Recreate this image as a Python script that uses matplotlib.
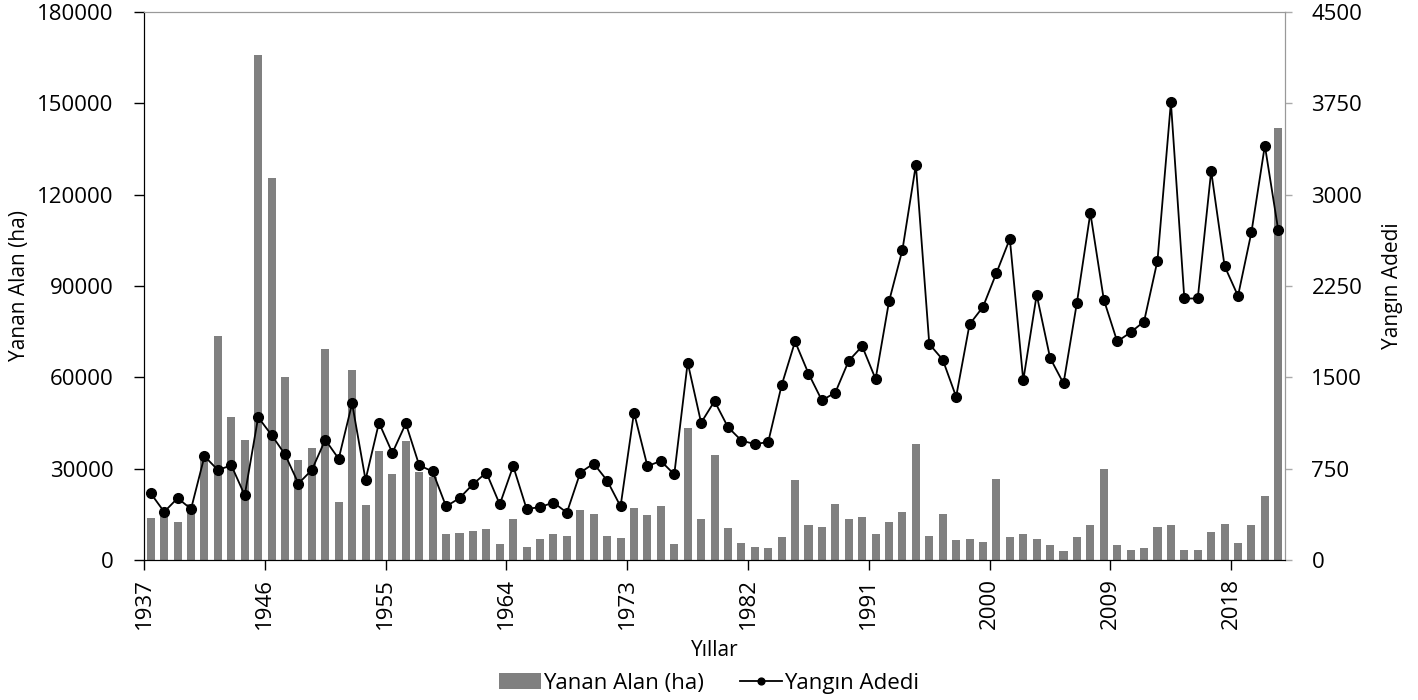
import matplotlib
matplotlib.use('Agg')
import matplotlib.pyplot as plt
import numpy as np

plt.rcParams['font.family'] = ['Open Sans', 'DejaVu Sans']

years = list(range(1937, 2022))

# Yanan Alan (ha)
burned_area = [13700, 15000, 12500, 18500, 33500, 73500, 46800, 39400, 165700, 125500,
               60200, 32700, 36700, 69300, 19100, 62400, 17900, 35900, 28100, 39200,
               28900, 27100, 8600, 9000, 9400, 10200, 5400, 13500, 4200, 6800,
               8600, 7800, 16500, 15200, 7800, 7200, 17100, 14900, 17700, 5400,
               43400, 13400, 34400, 10500, 5600, 4200, 3800, 7650, 26300, 11350,
               11000, 18500, 13400, 14100, 8400, 12400, 15800, 38200, 7800, 15200,
               6600, 6800, 6000, 26500, 7500, 8700, 6800, 5000, 2900, 7650,
               11600, 29900, 4800, 3350, 3800, 10750, 11600, 3200, 3200, 9300,
               11950, 5700, 11600, 21150, 142000]

# Yangin Adedi
fire_count = [547, 395, 508, 419, 852, 739, 777, 532, 1172, 1026,
              867, 628, 739, 987, 831, 1286, 658, 1127, 879, 1121,
              777, 727, 440, 508, 622, 718, 457, 771, 419, 434,
              472, 389, 718, 792, 652, 440, 1211, 771, 813, 703,
              1621, 1127, 1304, 1091, 981, 951, 969, 1435, 1794, 1531,
              1310, 1375, 1636, 1755, 1486, 2123, 2547, 3244, 1773, 1645,
              1340, 1935, 2078, 2356, 2637, 1474, 2177, 1659, 1450, 2114,
              2849, 2138, 1794, 1869, 1958, 2458, 3758, 2147, 2147, 3193,
              2413, 2168, 2691, 3403, 2706]

x = np.arange(len(years))

fig = plt.figure(figsize=(14.18, 7), dpi=100)
ax = fig.add_axes([0.1016, 0.2, 0.8046, 0.783])
ax2 = ax.twinx()

bars = ax.bar(x, burned_area, width=0.6, color='#808080', zorder=2, label='Yanan Alan (ha)')
line, = ax2.plot(x, fire_count, color='black', lw=1.3, marker='o', markersize=7,
                 label='Yangın Adedi')

ax.set_xlim(-0.5, len(years) - 0.5)
ax.set_ylim(0, 180000)
ax2.set_ylim(0, 4500)
ax.set_yticks(np.arange(0, 180001, 30000))
ax2.set_yticks(np.arange(0, 4501, 750))

# labels sit on the tick marks between categories, every 9 years
label_idx = list(range(0, len(years), 9))
ax.set_xticks([i - 0.5 for i in label_idx])
ax.set_xticklabels([str(years[i]) for i in label_idx], rotation=90)

ax.tick_params(axis='x', direction='out', length=7, width=1, pad=6, labelsize=16)
ax.tick_params(axis='y', direction='out', length=7, width=1, pad=15, labelsize=16)
ax2.tick_params(axis='y', direction='out', length=5, width=1, color='#aaaaaa', pad=14, labelsize=16)

for a in (ax, ax2):
    a.spines['top'].set_color('#999999')
    a.spines['right'].set_color('#999999')
    a.spines['left'].set_color('black')
    a.spines['bottom'].set_color('black')

ax.set_ylabel('Yanan Alan (ha)', fontsize=15, labelpad=5)
ax2.set_ylabel('Yangın Adedi', fontsize=15, labelpad=14)
ax.set_xlabel('Yıllar', fontsize=15, labelpad=8)

fig.legend([bars, line], ['Yanan Alan (ha)', 'Yangın Adedi'], loc='center',
           bbox_to_anchor=(0.5, 0.024), ncol=2, frameon=False, fontsize=16,
           handlelength=1.9, handletextpad=0.1, columnspacing=1.6, markerscale=0.7)

fig.savefig('out.png', dpi=100)
